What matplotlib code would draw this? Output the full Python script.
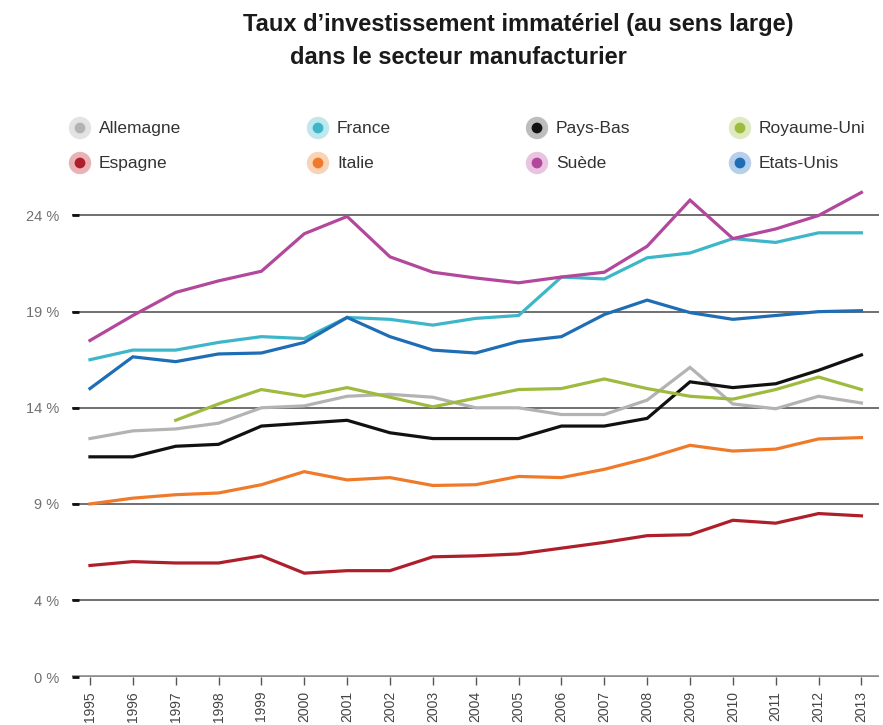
import matplotlib
matplotlib.use("Agg")
import matplotlib.pyplot as plt

plt.rcParams["font.family"] = ["Liberation Sans Narrow", "Liberation Sans", "DejaVu Sans"]

years = list(range(1995, 2014))

# Taux d'investissement immatériel (%)
allemagne = [12.4, 12.8, 12.9, 13.2, 14.0, 14.1, 14.6, 14.7, 14.55, 14.0,
             14.0, 13.65, 13.65, 14.4, 16.1, 14.2, 13.95, 14.6, 14.25]
france = [16.5, 17.0, 17.0, 17.4, 17.7, 17.6, 18.7, 18.6, 18.3, 18.65,
          18.8, 20.8, 20.7, 21.8, 22.05, 22.8, 22.6, 23.1, 23.1]
pays_bas = [11.45, 11.45, 12.0, 12.1, 13.05, 13.2, 13.35, 12.7, 12.4, 12.4,
            12.4, 13.05, 13.05, 13.45, 15.35, 15.05, 15.25, 15.95, 16.75]
royaume_uni = [None, None, 13.35, 14.2, 14.95, 14.6, 15.05, 14.55, 14.05, 14.5,
               14.95, 15.0, 15.5, 15.0, 14.6, 14.45, 14.95, 15.6, 14.95]
espagne = [5.8, 6.0, 5.93, 5.93, 6.3, 5.4, 5.53, 5.53, 6.25, 6.3,
           6.4, 6.7, 7.0, 7.35, 7.4, 8.15, 8.0, 8.5, 8.38]
italie = [9.0, 9.3, 9.48, 9.57, 10.0, 10.68, 10.25, 10.37, 9.96, 10.0,
          10.43, 10.37, 10.8, 11.37, 12.05, 11.75, 11.85, 12.38, 12.45]
suede = [17.5, 18.8, 20.0, 20.6, 21.1, 23.05, 23.95, 21.85, 21.05, 20.75,
         20.5, 20.8, 21.05, 22.4, 24.8, 22.8, 23.3, 24.0, 25.2]
etats_unis = [15.0, 16.65, 16.4, 16.8, 16.85, 17.4, 18.7, 17.7, 17.0, 16.85,
              17.45, 17.7, 18.85, 19.6, 18.95, 18.6, 18.8, 19.0, 19.05]

series = [
    ("Allemagne", allemagne, "#b3b3b3", "#e3e3e3"),
    ("France", france, "#3db6c9", "#bfe7ee"),
    ("Pays-Bas", pays_bas, "#111111", "#bdbdbd"),
    ("Royaume-Uni", royaume_uni, "#9dbb3e", "#dfeac0"),
    ("Espagne", espagne, "#ae1f2b", "#e9b3b6"),
    ("Italie", italie, "#ef7b2a", "#f9d3b6"),
    ("Suède", suede, "#b2479c", "#e8c4e0"),
    ("Etats-Unis", etats_unis, "#1f6db4", "#b6cfea"),
]

y_ticks = [0, 4, 9, 14, 19, 24]

fig = plt.figure(figsize=(8.83, 7.25), dpi=100)
ax = fig.add_axes([0.0815, 0.0662, 0.9135, 0.679])

# Gridlines
for v in y_ticks[1:]:
    ax.axhline(v, color="#6f6f6f", lw=1.4, zorder=1)
ax.axhline(0, color="#8c8c8c", lw=2.6, zorder=1)

# Lines
for name, vals, col, light in series:
    xs = [x for x, v in zip(years, vals) if v is not None]
    ys = [v for v in vals if v is not None]
    ax.plot(xs, ys, color=col, lw=2.3, zorder=3, solid_joinstyle="miter")

ax.set_xlim(1994.58, 2013.4)
ax.set_ylim(0, 25.6)
for s in ax.spines.values():
    s.set_visible(False)

ax.set_yticks(y_ticks)
ax.set_yticklabels([f"{v} %" for v in y_ticks])
ax.tick_params(axis="y", direction="in", length=5, width=2, color="#111111",
               labelsize=10.5, labelcolor="#707070", pad=9)
ax.set_xticks(years)
ax.set_xticklabels([str(y) for y in years], rotation=90)
ax.tick_params(axis="x", direction="out", length=6, width=1, color="#555555",
               labelsize=10, labelcolor="#444444", pad=4)

# Title
fig.text(243 / 883, 1 - 24 / 725, "Taux d’investissement immatériel (au sens large)",
         fontsize=17, fontweight="bold", color="#1a1a1a", ha="left", va="center")
fig.text(290 / 883, 1 - 58 / 725, "dans le secteur manufacturier",
         fontsize=17, fontweight="bold", color="#1a1a1a", ha="left", va="center")

# Legend
ov = fig.add_axes([0, 0, 1, 1], facecolor="none")
ov.set_xlim(0, 883)
ov.set_ylim(725, 0)
ov.axis("off")
col_x = [80, 318, 537, 740]
row_y = [128, 163]
for i, (name, vals, col, light) in enumerate(series):
    cx = col_x[i % 4]
    cy = row_y[i // 4]
    ov.scatter([cx], [cy], s=260, color=light, edgecolors="none")
    ov.scatter([cx], [cy], s=60, color=col, edgecolors="none")
    ov.text(cx + 19, cy, name, fontsize=12.5, color="#333333", ha="left", va="center")

fig.savefig("out.png", dpi=100)
